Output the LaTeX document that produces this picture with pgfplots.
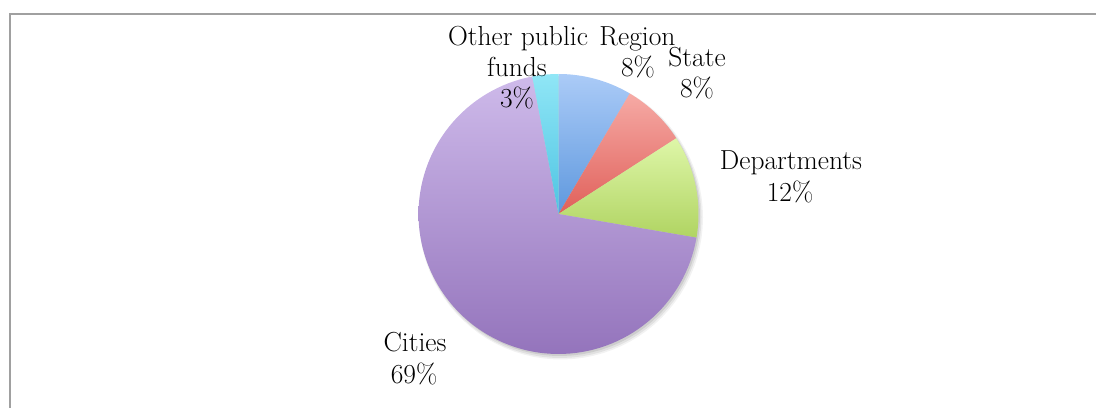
\documentclass[border=0pt]{standalone}
\usepackage{pgfplots}
\pgfplotsset{compat=1.18}
\definecolor{regT}{RGB}{171,203,247}
\definecolor{regB}{RGB}{94,152,222}
\definecolor{staT}{RGB}{246,170,165}
\definecolor{staB}{RGB}{224,96,90}
\definecolor{depT}{RGB}{222,246,168}
\definecolor{depB}{RGB}{176,212,98}
\definecolor{citT}{RGB}{206,186,234}
\definecolor{citB}{RGB}{148,116,188}
\definecolor{othT}{RGB}{144,230,246}
\definecolor{othB}{RGB}{78,196,226}
\definecolor{frame}{RGB}{160,160,160}
\tikzset{lbl/.style={font=\fontsize{27.5bp}{31bp}\selectfont,anchor=base,inner sep=0pt}}
\begin{document}
\begin{tikzpicture}
\def\cx{558.5}\def\cy{194}\def\r{140}
% percentages (Region, State, Departments, Cities, Other public funds)
\pgfmathsetmacro\aA{90}
\pgfmathsetmacro\aB{\aA-3.6*8.5}
\pgfmathsetmacro\aC{\aB-3.6*7.4}
\pgfmathsetmacro\aD{\aC-3.6*11.8}
\pgfmathsetmacro\aE{\aD-3.6*69.3}
\pgfmathsetmacro\aF{\aE-3.6*3.0}
\begin{axis}[width=1096bp,height=408bp,scale only axis,
  xmin=0,xmax=1096,ymin=0,ymax=408,hide axis,clip=false,
  every axis plot/.append style={draw=none}]
% shadow
\addplot[fill=black,fill opacity=0.05,domain=0:360,samples=90] ({\cx+2.5+142*cos(x)},{\cy-3.5+142*sin(x)}) -- cycle;
\addplot[fill=black,fill opacity=0.07,domain=0:360,samples=90] ({\cx+2+141*cos(x)},{\cy-3+141*sin(x)}) -- cycle;
\addplot[fill=black,fill opacity=0.09,domain=0:360,samples=90] ({\cx+1.5+140*cos(x)},{\cy-2+140*sin(x)}) -- cycle;
% slices
\addplot[top color=regT,bottom color=regB,domain=\aB:\aA,samples=20] ({\cx+\r*cos(x)},{\cy+\r*sin(x)}) -- (axis cs:\cx,\cy) -- cycle;
\addplot[top color=staT,bottom color=staB,domain=\aC:\aB,samples=20] ({\cx+\r*cos(x)},{\cy+\r*sin(x)}) -- (axis cs:\cx,\cy) -- cycle;
\addplot[top color=depT,bottom color=depB,domain=\aD:\aC,samples=25] ({\cx+\r*cos(x)},{\cy+\r*sin(x)}) -- (axis cs:\cx,\cy) -- cycle;
\addplot[top color=citT,bottom color=citB,domain=\aE:\aD,samples=100] ({\cx+\r*cos(x)},{\cy+\r*sin(x)}) -- (axis cs:\cx,\cy) -- cycle;
\addplot[top color=othT,bottom color=othB,domain=\aF:\aE,samples=10] ({\cx+\r*cos(x)},{\cy+\r*sin(x)}) -- (axis cs:\cx,\cy) -- cycle;
% frame
\draw[frame,line width=2.2bp] (axis cs:10,0) -- (axis cs:10,394) -- (axis cs:1096,394);
% labels
\node[lbl] at (axis cs:518,362) {Other public};
\node[lbl] at (axis cs:517,331) {funds};
\node[lbl] at (axis cs:517,300) {3\%};
\node[lbl] at (axis cs:637.5,362) {Region};
\node[lbl] at (axis cs:638,331) {8\%};
\node[lbl] at (axis cs:697,341.5) {State};
\node[lbl] at (axis cs:697,310) {8\%};
\node[lbl] at (axis cs:791,238.5) {Departments};
\node[lbl] at (axis cs:790,206) {12\%};
\node[lbl] at (axis cs:415,56.5) {Cities};
\node[lbl] at (axis cs:414,25) {69\%};
\end{axis}
\pgfresetboundingbox
\path (0,0) rectangle (1096bp,408bp);
\end{tikzpicture}
\end{document}
